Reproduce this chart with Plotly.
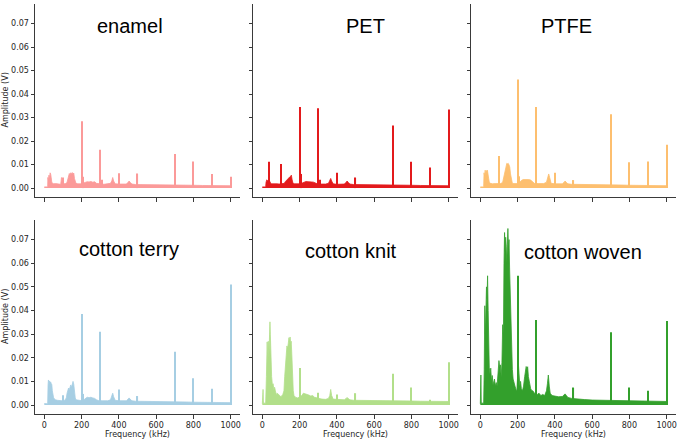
import plotly.graph_objects as go

# ---------------- data (frequency in kHz, amplitude in V) ----------------
PANEL_NAMES = ["enamel", "PET", "PTFE", "cotton terry", "cotton knit", "cotton woven"]
PANEL_COLORS = ["#fb9a99", "#e31a1c", "#fdbf6f", "#a6cee3", "#b2df8a", "#33a02c"]

X_TICKS = [0, 200, 400, 600, 800, 1000]
Y_TICKS = [0.00, 0.01, 0.02, 0.03, 0.04, 0.05, 0.06, 0.07]
Y_TICK_LABELS = ["0.00", "0.01", "0.02", "0.03", "0.04", "0.05", "0.06", "0.07"]

# broadband floor (frequency, amplitude) pairs per panel
ENAMEL_FLOOR = [(0, 0.0005), (18, 0.0005), (19, 0.0045), (22, 0.0035), (25, 0.0055), (28, 0.004),
                (31, 0.0065), (34, 0.006), (37, 0.0045), (40, 0.0025), (45, 0.002), (50, 0.0018),
                (60, 0.0019), (70, 0.0017), (80, 0.0018), (88, 0.0016), (92, 0.0045), (96, 0.0018),
                (105, 0.0018), (115, 0.0019), (122, 0.0025), (126, 0.0035), (130, 0.005), (134, 0.0062),
                (138, 0.0058), (142, 0.0065), (146, 0.006), (150, 0.0066), (154, 0.0058), (158, 0.0064),
                (162, 0.004), (166, 0.0025), (170, 0.002), (180, 0.0018), (190, 0.0017), (205, 0.0018),
                (212, 0.0022), (220, 0.0025), (230, 0.0027), (240, 0.0026), (250, 0.0028), (260, 0.0025),
                (270, 0.0027), (280, 0.002), (290, 0.0018), (310, 0.0017), (320, 0.0016), (340, 0.0017),
                (355, 0.002), (362, 0.003), (367, 0.0045), (372, 0.003), (380, 0.0018), (400, 0.0017),
                (420, 0.0016), (440, 0.0017), (450, 0.0025), (455, 0.003), (460, 0.0025), (470, 0.0017),
                (490, 0.0015), (520, 0.0015), (560, 0.0014), (600, 0.0014), (650, 0.0013), (700, 0.0013),
                (750, 0.0012), (800, 0.0012), (850, 0.0011), (900, 0.0011), (950, 0.001), (1000, 0.001)]

PET_FLOOR = [(0, 0.0005), (18, 0.0005), (20, 0.0025), (24, 0.0035), (28, 0.0032), (32, 0.003),
             (36, 0.0035), (40, 0.0025), (45, 0.002), (50, 0.0018), (60, 0.0019), (70, 0.0017),
             (80, 0.0018), (90, 0.0017), (100, 0.0018), (110, 0.0018), (118, 0.002), (124, 0.0028),
             (128, 0.0032), (132, 0.0036), (136, 0.004), (140, 0.0042), (144, 0.0045), (148, 0.0048),
             (152, 0.005), (156, 0.0055), (160, 0.0035), (165, 0.002), (170, 0.0018), (180, 0.0018),
             (190, 0.0017), (205, 0.0018), (215, 0.0022), (225, 0.0026), (235, 0.0028), (245, 0.0027),
             (255, 0.0028), (265, 0.0026), (275, 0.0025), (285, 0.002), (295, 0.0018), (310, 0.0017),
             (320, 0.0016), (340, 0.0017), (355, 0.002), (362, 0.003), (367, 0.0041), (372, 0.003),
             (380, 0.0018), (400, 0.0016), (420, 0.0016), (440, 0.0017), (450, 0.0025), (455, 0.003),
             (460, 0.0025), (470, 0.0017), (490, 0.0015), (520, 0.0015), (560, 0.0014), (600, 0.0014),
             (650, 0.0013), (700, 0.0013), (750, 0.0012), (800, 0.0012), (850, 0.0011), (900, 0.0011),
             (950, 0.001), (1000, 0.001)]

PTFE_FLOOR = [(0, 0.0005), (18, 0.0005), (20, 0.0065), (23, 0.005), (26, 0.0076), (29, 0.0055),
              (32, 0.0075), (35, 0.006), (38, 0.0076), (41, 0.0055), (44, 0.004), (48, 0.0025),
              (55, 0.002), (65, 0.0018), (80, 0.0019), (95, 0.0018), (110, 0.0019), (120, 0.0025),
              (126, 0.005), (130, 0.0065), (134, 0.008), (138, 0.0095), (142, 0.0105), (146, 0.0103),
              (150, 0.0105), (154, 0.0098), (158, 0.009), (162, 0.006), (166, 0.0035), (172, 0.002),
              (180, 0.0019), (190, 0.0018), (205, 0.0019), (212, 0.0025), (220, 0.0032), (230, 0.0036),
              (240, 0.0037), (250, 0.0035), (260, 0.0036), (270, 0.0034), (280, 0.0025), (290, 0.002),
              (310, 0.0019), (320, 0.0018), (340, 0.0019), (355, 0.0025), (362, 0.0045), (367, 0.006),
              (372, 0.0045), (380, 0.002), (400, 0.0018), (420, 0.0017), (440, 0.0018), (450, 0.0025),
              (455, 0.003), (460, 0.0025), (470, 0.0018), (490, 0.0016), (520, 0.0016), (560, 0.0015),
              (600, 0.0015), (650, 0.0014), (700, 0.0013), (750, 0.0013), (800, 0.0012), (850, 0.0011),
              (900, 0.0011), (950, 0.001), (1000, 0.001)]

TERRY_FLOOR = [(0, 0.0006), (18, 0.0005), (20, 0.0085), (22, 0.0106), (25, 0.0095), (28, 0.0102),
               (31, 0.0092), (34, 0.0098), (37, 0.009), (40, 0.0088), (43, 0.006), (46, 0.004),
               (50, 0.003), (55, 0.0025), (60, 0.0022), (70, 0.002), (80, 0.0019), (95, 0.0018),
               (110, 0.002), (118, 0.003), (122, 0.005), (126, 0.0068), (130, 0.0072), (134, 0.0065),
               (138, 0.0078), (142, 0.0085), (146, 0.0075), (150, 0.009), (154, 0.01), (158, 0.0088),
               (162, 0.005), (166, 0.003), (170, 0.0022), (180, 0.002), (190, 0.0019), (205, 0.0018),
               (212, 0.0022), (220, 0.0028), (230, 0.0033), (240, 0.0031), (250, 0.0033), (260, 0.003),
               (270, 0.0028), (280, 0.0022), (290, 0.0019), (310, 0.0018), (320, 0.0017), (340, 0.0018),
               (355, 0.0022), (362, 0.0035), (367, 0.005), (372, 0.0035), (380, 0.002), (400, 0.0018),
               (420, 0.0017), (440, 0.0018), (450, 0.0025), (455, 0.003), (460, 0.0025), (470, 0.0018),
               (490, 0.0016), (520, 0.0016), (560, 0.0015), (600, 0.0015), (650, 0.0014), (700, 0.0013),
               (750, 0.0013), (800, 0.0012), (850, 0.0012), (900, 0.0011), (950, 0.0011), (1000, 0.001)]

KNIT_FLOOR = [(0, 0.0005), (1, 0.0066), (4, 0.0066), (6, 0.0008), (18, 0.0008), (22, 0.012),
              (26, 0.0267), (29, 0.018), (32, 0.027), (35, 0.02), (38, 0.025), (41, 0.0352),
              (43, 0.03), (46, 0.018), (50, 0.012), (54, 0.0085), (58, 0.009), (62, 0.0065),
              (66, 0.0075), (70, 0.006), (75, 0.0045), (80, 0.005), (90, 0.004), (100, 0.0035),
              (110, 0.0045), (116, 0.006), (120, 0.012), (124, 0.018), (128, 0.023), (132, 0.025),
              (136, 0.024), (140, 0.026), (143, 0.0285), (146, 0.027), (149, 0.0288), (152, 0.026),
              (155, 0.027), (158, 0.022), (162, 0.012), (166, 0.006), (170, 0.004), (180, 0.0032),
              (190, 0.003), (205, 0.0035), (212, 0.004), (220, 0.005), (230, 0.0048), (240, 0.0045),
              (250, 0.0042), (260, 0.0038), (270, 0.004), (280, 0.0033), (290, 0.003), (300, 0.0028),
              (310, 0.0027), (320, 0.0025), (340, 0.0024), (355, 0.0028), (362, 0.004), (367, 0.0066),
              (372, 0.004), (380, 0.0025), (400, 0.0023), (420, 0.0022), (440, 0.0022), (450, 0.0028),
              (455, 0.0032), (460, 0.0028), (470, 0.0022), (490, 0.002), (520, 0.002), (560, 0.0019),
              (600, 0.0019), (650, 0.0018), (700, 0.0018), (750, 0.0017), (800, 0.0017), (850, 0.0016),
              (900, 0.0016), (950, 0.0015), (1000, 0.0015)]

WOVEN_FLOOR = [(0, 0.0005), (1, 0.0127), (3, 0.0127), (5, 0.0008), (18, 0.0008), (21, 0.015),
               (24, 0.042), (27, 0.03), (30, 0.038), (33, 0.05), (36, 0.045), (39, 0.0547),
               (42, 0.04), (45, 0.022), (48, 0.016), (52, 0.013), (56, 0.0156), (60, 0.01),
               (64, 0.0125), (68, 0.0085), (72, 0.0105), (76, 0.011), (80, 0.008), (85, 0.0095),
               (90, 0.008), (95, 0.012), (100, 0.0188), (104, 0.016), (108, 0.017), (112, 0.012),
               (116, 0.018), (120, 0.034), (124, 0.03), (127, 0.06), (130, 0.073), (133, 0.065),
               (136, 0.071), (139, 0.067), (142, 0.06), (145, 0.068), (148, 0.0747), (151, 0.066),
               (154, 0.07), (157, 0.058), (160, 0.05), (164, 0.035), (168, 0.02), (172, 0.015),
               (176, 0.011), (180, 0.009), (186, 0.008), (192, 0.0065), (196, 0.006), (204, 0.0177),
               (208, 0.012), (212, 0.008), (216, 0.01), (220, 0.007), (226, 0.006), (232, 0.008),
               (238, 0.012), (242, 0.0155), (246, 0.0163), (250, 0.015), (254, 0.0162), (258, 0.012),
               (262, 0.01), (266, 0.008), (270, 0.007), (276, 0.006), (282, 0.006), (290, 0.005),
               (298, 0.005), (306, 0.0045), (315, 0.005), (325, 0.004), (335, 0.0045), (345, 0.004),
               (355, 0.006), (360, 0.009), (365, 0.0127), (370, 0.008), (375, 0.005), (385, 0.004),
               (400, 0.0038), (420, 0.0035), (440, 0.0036), (448, 0.0042), (455, 0.0047), (462, 0.004),
               (470, 0.0032), (490, 0.0028), (520, 0.0025), (560, 0.0023), (600, 0.0021), (650, 0.002),
               (700, 0.0019), (750, 0.0018), (800, 0.0018), (850, 0.0017), (900, 0.0016), (950, 0.0016),
               (1000, 0.0015)]

# narrow spectral lines: frequency (kHz), amplitude (V)
ENAMEL_LINES_F = [100, 200, 210, 300, 310, 400, 500, 700, 800, 900, 1000]
ENAMEL_LINES_A = [0.0045, 0.0284, 0.0048, 0.0163, 0.0035, 0.0063, 0.0062, 0.0145, 0.0113, 0.006, 0.0048]
PET_LINES_F = [36, 100, 200, 210, 300, 310, 400, 500, 700, 800, 900, 1000]
PET_LINES_A = [0.0112, 0.0102, 0.0345, 0.006, 0.034, 0.0035, 0.0065, 0.0045, 0.0266, 0.0112, 0.0088, 0.0334]
PTFE_LINES_F = [102, 200, 210, 300, 400, 500, 700, 800, 900, 1000]
PTFE_LINES_A = [0.0136, 0.0462, 0.005, 0.0345, 0.0065, 0.0034, 0.0314, 0.011, 0.0113, 0.0184]
TERRY_LINES_F = [100, 200, 210, 300, 400, 500, 700, 800, 900, 1000]
TERRY_LINES_A = [0.0041, 0.0385, 0.0047, 0.031, 0.0066, 0.0038, 0.0225, 0.0113, 0.0069, 0.051]
KNIT_LINES_F = [200, 300, 400, 500, 700, 800, 900, 1000]
KNIT_LINES_A = [0.0157, 0.0052, 0.0045, 0.005, 0.0132, 0.0074, 0.0022, 0.0181]
WOVEN_LINES_F = [200, 300, 500, 700, 800, 900, 1000]
WOVEN_LINES_A = [0.0547, 0.036, 0.0074, 0.0308, 0.0074, 0.006, 0.0356]

FLOORS = [ENAMEL_FLOOR, PET_FLOOR, PTFE_FLOOR, TERRY_FLOOR, KNIT_FLOOR, WOVEN_FLOOR]
LINES = [(ENAMEL_LINES_F, ENAMEL_LINES_A), (PET_LINES_F, PET_LINES_A), (PTFE_LINES_F, PTFE_LINES_A),
         (TERRY_LINES_F, TERRY_LINES_A), (KNIT_LINES_F, KNIT_LINES_A), (WOVEN_LINES_F, WOVEN_LINES_A)]

# ---------------- layout geometry (pixels) ----------------
W, H = 678, 439
COL_PX = [(35, 240), (253, 458), (471, 676)]
ROW_PX = [(4, 197), (220, 414)]
TITLE_PX = [(130, 26), (365, 26), (566, 26), (129, 249), (351, 251), (583, 252)]

TICK_FONT = dict(family="DejaVu Sans", size=8, color="#262626")
AX_COLOR = "#3a3a3a"

fig = go.Figure()
layout = dict(width=W, height=H, margin=dict(l=0, r=0, t=0, b=0),
              paper_bgcolor="white", plot_bgcolor="white", showlegend=False,
              barmode="overlay")

annotations = []
for i, name in enumerate(PANEL_NAMES):
    r, c = divmod(i, 3)
    xs = "" if i == 0 else str(i + 1)
    xa, ya = "x" + xs, "y" + xs
    color = PANEL_COLORS[i]
    ff = [p[0] for p in FLOORS[i]]
    fa = [p[1] for p in FLOORS[i]]
    fig.add_trace(go.Scatter(x=ff, y=fa, mode="lines", line=dict(color=color, width=0.8),
                             fill="tozeroy", fillcolor=color, xaxis=xa, yaxis=ya,
                             hoverinfo="skip"))
    lf, la = LINES[i]
    fig.add_trace(go.Bar(x=lf, y=la, width=6, marker=dict(color=color, line=dict(width=0)),
                         xaxis=xa, yaxis=ya, hoverinfo="skip"))
    x0, x1 = COL_PX[c]
    y0, y1 = ROW_PX[r]
    layout["xaxis" + xs] = dict(
        domain=[x0 / W, x1 / W], anchor=ya, range=[-50, 1050],
        tickmode="array", tickvals=X_TICKS, showticklabels=(r == 1),
        ticks="outside", ticklen=3.5, tickwidth=0.8, tickcolor=AX_COLOR,
        showline=True, linecolor=AX_COLOR, linewidth=1, showgrid=False, zeroline=False,
        tickfont=TICK_FONT)
    layout["yaxis" + xs] = dict(
        domain=[1 - y1 / H, 1 - y0 / H], anchor=xa, range=[-0.0038, 0.0783],
        tickmode="array", tickvals=Y_TICKS, ticktext=Y_TICK_LABELS, showticklabels=(c == 0),
        ticks="outside", ticklen=3.5, tickwidth=0.8, tickcolor=AX_COLOR,
        showline=True, linecolor=AX_COLOR, linewidth=1, showgrid=False, zeroline=False,
        tickfont=TICK_FONT)
    tx, ty = TITLE_PX[i]
    annotations.append(dict(text=name, x=tx / W, y=1 - ty / H, xref="paper", yref="paper",
                            xanchor="center", yanchor="middle", showarrow=False,
                            font=dict(family="Liberation Sans, Arial", size=20, color="black")))
    if c == 0:
        annotations.append(dict(text="Amplitude (V)", x=5 / W, y=1 - ((y0 + y1) / 2) / H,
                                xref="paper", yref="paper", textangle=-90,
                                xanchor="center", yanchor="middle", showarrow=False,
                                font=dict(family="DejaVu Sans", size=8, color="#262626")))
    if r == 1:
        annotations.append(dict(text="Frequency (kHz)", x=((x0 + x1) / 2) / W, y=1 - 434 / H,
                                xref="paper", yref="paper",
                                xanchor="center", yanchor="middle", showarrow=False,
                                font=dict(family="DejaVu Sans", size=8, color="#262626")))

layout["annotations"] = annotations
fig.update_layout(**layout)
fig.write_html("out.html")
